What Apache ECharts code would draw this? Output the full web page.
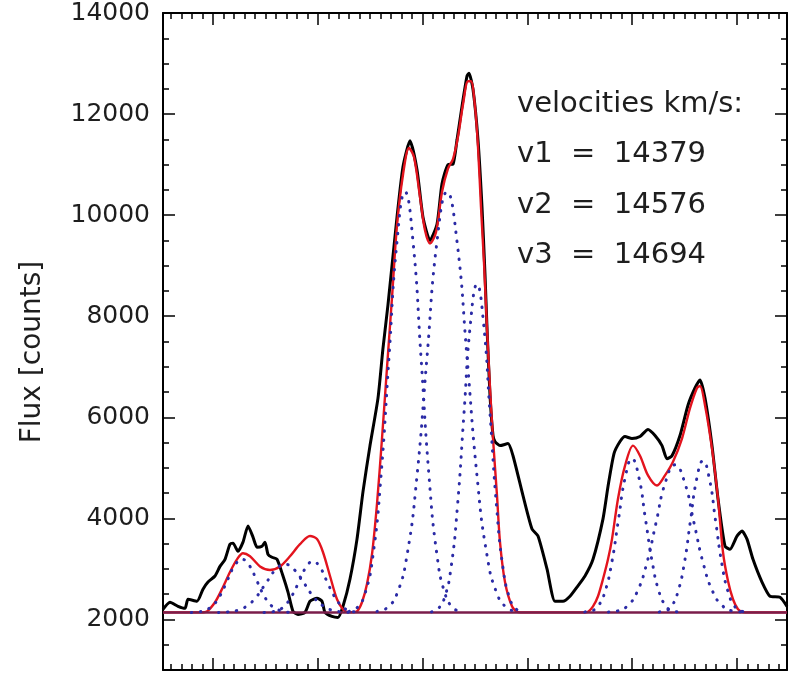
<!DOCTYPE html>
<html>
<head>
<meta charset="utf-8">
<script src="https://cdn.jsdelivr.net/npm/echarts@6/dist/echarts.min.js"></script>
<style>
html, body { margin: 0; padding: 0; background: #fff; }
#container { width: 801px; height: 673px; }
</style>
</head>
<body>
<div id="container"></div>
<script>
// observed spectrum (black)
var observed = [[0.0,2200],[0.7,2340],[1.5,2260],[2.2,2220],[2.5,2400],[3.4,2360],[4.0,2600],[4.5,2740],[5.2,2860],[5.7,3050],[6.2,3190],[6.7,3490],[7.0,3510],[7.5,3350],[8.0,3530],[8.5,3850],[9.0,3630],[9.4,3430],[9.9,3450],[10.2,3530],[10.5,3290],[10.9,3230],[11.4,3190],[12.0,2860],[12.5,2540],[13.0,2160],[13.5,2100],[14.2,2140],[14.7,2360],[15.4,2420],[15.9,2360],[16.2,2140],[16.9,2060],[17.5,2040],[18.0,2260],[18.7,2800],[19.4,3590],[20.0,4530],[20.7,5440],[21.5,6380],[22.0,7370],[22.5,8230],[23.4,9960],[24.0,10960],[24.7,11470],[25.4,10900],[26.0,9960],[26.7,9500],[27.4,9820],[27.9,10620],[28.5,11000],[29.0,11010],[29.4,11490],[29.9,12150],[30.4,12750],[30.6,12810],[31.0,12490],[31.5,11490],[31.9,10160],[32.2,8830],[32.4,7770],[32.7,6440],[33.0,5640],[33.2,5520],[33.7,5440],[34.5,5480],[35.0,5240],[36.0,4450],[36.9,3790],[37.5,3650],[38.4,3000],[39.2,2360],[40.0,2360],[40.7,2460],[41.4,2640],[42.2,2860],[43.0,3190],[44.0,3990],[44.5,4630],[45.1,5280],[45.7,5520],[46.2,5620],[46.9,5580],[47.7,5620],[48.5,5760],[49.2,5640],[49.9,5440],[50.4,5180],[50.9,5240],[51.7,5640],[52.5,6240],[53.2,6580],[53.7,6740],[54.2,6380],[54.9,5440],[55.5,4390],[56.2,3450],[56.7,3390],[57.4,3650],[57.9,3750],[58.4,3590],[59.0,3190],[59.9,2740],[60.7,2460],[61.7,2440],[62.4,2260]];

// total fit (red)
var fitTotal = [[0,2140],[3.0,2140],[3.8,2140],[4.4,2160],[5.2,2340],[5.9,2600],[6.7,2940],[7.4,3190],[8.0,3310],[8.7,3250],[9.7,3050],[10.7,2980],[11.7,3050],[12.7,3250],[13.7,3490],[14.7,3650],[15.4,3590],[16.0,3330],[16.7,2860],[17.4,2400],[18.0,2200],[18.5,2145],[19.0,2145],[19.4,2160],[19.9,2340],[20.4,2700],[20.9,3290],[21.4,4290],[21.9,5580],[22.4,6980],[22.9,8370],[23.4,9800],[24.0,10800],[24.6,11330],[25.1,11150],[25.7,10360],[26.2,9700],[26.7,9440],[27.3,9660],[27.9,10460],[28.5,10920],[29.0,11110],[29.5,11550],[30.0,12190],[30.5,12650],[30.8,12650],[31.2,12150],[31.5,11350],[31.8,10160],[32.1,9060],[32.4,7770],[32.7,6580],[33.0,5580],[33.4,4450],[33.7,3530],[34.2,2740],[34.9,2260],[35.5,2145],[36.2,2140],[41.8,2140],[42.4,2145],[43.0,2260],[43.5,2460],[44.0,2800],[44.5,3190],[44.9,3590],[45.5,4390],[46.2,5040],[47.0,5440],[47.7,5240],[48.5,4850],[49.4,4650],[50.2,4850],[51.0,5120],[51.9,5580],[52.7,6180],[53.4,6580],[53.7,6620],[54.2,6240],[54.9,5380],[55.5,4390],[56.0,3330],[56.5,2760],[57.0,2400],[57.5,2200],[58.0,2145],[58.6,2140],[62.4,2140]];

// single components (blue dotted), three per line group
var comp1a = [[2.83,2140],[3.55,2150],[4.28,2190],[5.0,2280],[5.73,2480],[6.45,2780],[7.18,3070],[7.9,3190],[8.63,3070],[9.35,2780],[10.08,2480],[10.8,2280],[11.53,2190],[12.25,2150],[12.98,2140]];
var comp1b = [[5.55,2140],[6.5,2150],[7.45,2180],[8.4,2270],[9.35,2450],[10.3,2720],[11.25,2980],[12.2,3090],[13.15,2980],[14.1,2720],[15.05,2450],[16.0,2270],[16.95,2180],[17.9,2150],[18.85,2140]];
var comp1c = [[10.1,2140],[10.8,2150],[11.5,2180],[12.2,2280],[12.9,2470],[13.6,2750],[14.3,3030],[15.0,3150],[15.7,3030],[16.4,2750],[17.1,2470],[17.8,2280],[18.5,2180],[19.2,2150],[19.9,2140]];
var comp2a = [[18.6,2160],[19.4,2230],[20.2,2510],[21.0,3270],[21.8,4840],[22.6,7190],[23.4,9480],[24.2,10460],[25.0,9480],[25.8,7190],[26.6,4840],[27.4,3270],[28.2,2510],[29.0,2230],[29.8,2160]];
var comp2b = [[21.4,2160],[22.4,2230],[23.4,2510],[24.4,3270],[25.4,4840],[26.4,7190],[27.4,9480],[28.4,10460],[29.4,9480],[30.4,7190],[31.4,4840],[32.4,3270],[33.4,2510],[34.4,2230],[35.4,2160]];
var comp2c = [[26.85,2150],[27.5,2210],[28.15,2430],[28.8,3020],[29.45,4250],[30.1,6080],[30.75,7870],[31.4,8630],[32.05,7870],[32.7,6080],[33.35,4250],[34.0,3020],[34.65,2430],[35.3,2210],[35.95,2150]];
var comp3a = [[42.18,2150],[42.85,2170],[43.53,2270],[44.2,2550],[44.88,3130],[45.55,3980],[46.23,4820],[46.9,5180],[47.58,4820],[48.25,3980],[48.93,3130],[49.6,2550],[50.28,2270],[50.95,2170],[51.63,2150]];
var comp3b = [[44.55,2150],[45.5,2170],[46.45,2270],[47.4,2540],[48.35,3090],[49.3,3910],[50.25,4720],[51.2,5060],[52.15,4720],[53.1,3910],[54.05,3090],[55.0,2540],[55.95,2270],[56.9,2170],[57.85,2150]];
var comp3c = [[49.63,2150],[50.25,2170],[50.88,2270],[51.5,2550],[52.13,3110],[52.75,3960],[53.38,4790],[54.0,5140],[54.63,4790],[55.25,3960],[55.88,3110],[56.5,2550],[57.13,2270],[57.75,2170],[58.38,2150]];

var baseline = [[0,2140],[62.4,2140]];
var yTickLabels = [2000, 4000, 6000, 8000, 10000, 12000, 14000];
var velocityLines = ['velocities km/s:', 'v1  =  14379', 'v2  =  14576', 'v3  =  14694'];

var dom = document.getElementById('container');
var myChart = echarts.init(dom);

// x ticks: long ones every 10 small steps, no labels
var xMajor = [], xMinor = [];
for (var k = -4; k <= 55; k++) {
    var v = +(5.0 + k * 1.048).toFixed(3);
    if (v <= 0 || v >= 62.4) continue;
    if (k % 10 === 0) xMajor.push(v); else xMinor.push(v);
}

function xAx(pos, ticks, len, withLine) {
    return {
        type: 'value', position: pos, offset: 0, min: 0, max: 62.4,
        axisLine: { show: withLine, onZero: false, lineStyle: { color: '#000', width: 2 } },
        axisTick: { show: true, inside: true, length: len, customValues: ticks, lineStyle: { color: '#000', width: 1.5 } },
        axisLabel: { show: false },
        splitLine: { show: false }
    };
}

function yAx(pos, major) {
    var ax = {
        type: 'value', position: pos, offset: 0, min: 1000, max: 14000,
        axisLine: { show: major, onZero: false, lineStyle: { color: '#000', width: 2 } },
        axisTick: { show: true, inside: true, length: major ? 12 : 6, lineStyle: { color: '#000', width: 1.5 } },
        axisLabel: { show: false },
        splitLine: { show: false }
    };
    if (major) {
        ax.axisTick.customValues = yTickLabels;
    } else {
        ax.interval = 500;
    }
    if (major && pos === 'left') {
        ax.axisLabel = {
            show: true, customValues: yTickLabels, margin: 13, color: '#1e1e1e',
            fontSize: 25, fontFamily: 'DejaVu Sans', padding: [8, 0, 0, 0],
            formatter: function (val) { return String(val); }
        };
    }
    return ax;
}

function dotted(name, data) {
    return {
        name: name, type: 'line', data: data, smooth: 0.5, showSymbol: false, silent: true,
        lineStyle: { color: '#2b2ba6', width: 3, type: [0.5, 8.5], cap: 'round' },
        z: 4
    };
}

var textEls = velocityLines.map(function (t, i) {
    return {
        type: 'text', left: 517, top: [90, 140, 191, 241][i],
        style: { text: t, fill: '#1e1e1e', font: '29px "DejaVu Sans"' }
    };
});
textEls.push({
    type: 'text', x: 33, y: 352, rotation: Math.PI / 2,
    style: { text: 'Flux [counts]', fill: '#1e1e1e', font: '28px "DejaVu Sans"', align: 'center', verticalAlign: 'middle' }
});

var option = {
    animation: false,
    backgroundColor: '#fff',
    grid: { left: 163, right: 14, top: 13, bottom: 3 },
    xAxis: [xAx('bottom', xMajor, 12, true), xAx('bottom', xMinor, 6, false), xAx('top', xMajor, 12, true), xAx('top', xMinor, 6, false)],
    yAxis: [yAx('left', true), yAx('left', false), yAx('right', true), yAx('right', false)],
    graphic: textEls,
    series: [
        { name: 'observed', type: 'line', data: observed, smooth: 0.2, showSymbol: false, silent: true,
          lineStyle: { color: '#000', width: 3 }, z: 2 },
        { name: 'fit', type: 'line', data: fitTotal, smooth: 0.3, showSymbol: false, silent: true,
          lineStyle: { color: '#e3141e', width: 2.4 }, z: 3 },
        { name: 'baseline', type: 'line', data: baseline, showSymbol: false, silent: true,
          lineStyle: { color: '#7a1d4a', width: 2.5 }, z: 3 },
        dotted('c1a', comp1a), dotted('c1b', comp1b), dotted('c1c', comp1c),
        dotted('c2a', comp2a), dotted('c2b', comp2b), dotted('c2c', comp2c),
        dotted('c3a', comp3a), dotted('c3b', comp3b), dotted('c3c', comp3c)
    ]
};

if (option && typeof option === 'object') {
    myChart.setOption(option);
}
</script>
</body>
</html>
